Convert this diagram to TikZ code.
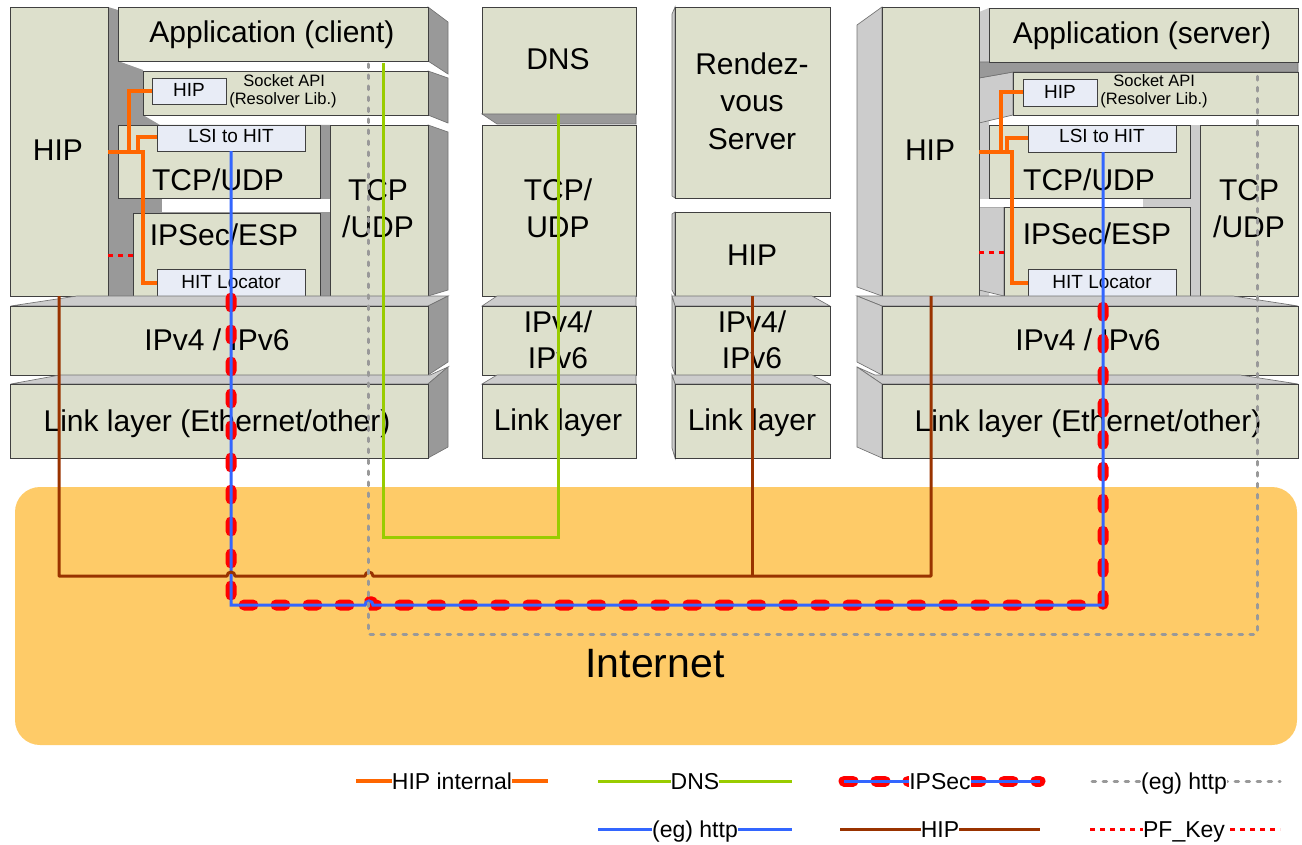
\documentclass[tikz,border=0pt]{standalone}
\usepackage{fontspec}
\setmainfont{Liberation Sans}
\definecolor{face}{RGB}{221,224,204}
\definecolor{sidegray}{RGB}{153,153,153}
\definecolor{topgray}{RGB}{204,204,204}
\definecolor{innerblue}{RGB}{232,236,246}
\definecolor{internet}{RGB}{254,203,104}
\definecolor{horange}{RGB}{255,102,0}
\definecolor{dgreen}{RGB}{153,204,0}
\definecolor{hblue}{RGB}{51,102,255}
\definecolor{hbrown}{RGB}{153,51,0}
\definecolor{hgray}{RGB}{153,153,153}
\definecolor{hred}{RGB}{255,0,0}
\tikzset{
  front/.style={fill=face, draw=black!75, line width=0.5pt},
  sideface/.style={fill=sidegray, draw=black!55, line width=0.4pt},
  topface/.style={fill=topgray, draw=black!55, line width=0.4pt},
  innerbox/.style={fill=innerblue, draw=black!75, line width=0.5pt},
  bigtxt/.style={font=\fontsize{18}{22}\selectfont, anchor=base, inner sep=0pt},
  smalltxt/.style={font=\fontsize{11.4}{13}\selectfont, anchor=base, inner sep=0pt},
  tinytxt/.style={font=\fontsize{9.9}{12}\selectfont, anchor=base west, inner sep=0pt},
  legtxt/.style={font=\fontsize{13.8}{16}\selectfont, anchor=base, inner xsep=0pt, inner ysep=1pt, fill=white},
  orangel/.style={draw=horange, line width=2.1pt},
  greenl/.style={draw=dgreen, line width=1.8pt},
  bluel/.style={draw=hblue, line width=1.8pt},
  brownl/.style={draw=hbrown, line width=1.8pt, line join=round},
  grayl/.style={draw=hgray, line width=1.8pt, line cap=round, dash pattern=on 2.2pt off 4.4pt},
  ipsecl/.style={draw=hred, line width=6.6pt, line cap=round, dash pattern=on 5.4pt off 13.8pt},
  pfkeyl/.style={draw=hred, line width=1.8pt, dash pattern=on 3pt off 3pt},
}
\begin{document}
\begin{tikzpicture}[x=0.6pt,y=-0.6pt]
\useasboundingbox (0,0) rectangle (1302,845);

% Internet
\fill[internet, rounded corners=15pt] (15,487) rectangle (1297,745);
\node[font=\fontsize{24.6}{28}\selectfont, anchor=base, inner sep=0pt] (inet) at (655,677) {Internet};

% ================= client stack =================
\fill[sidegray] (108,7) -- (118,10) -- (118,61) -- (143,70) -- (143,115) -- (160,125) -- (330,125) -- (330,296) -- (108,296) -- cycle;
\fill[white] (162,199) rectangle (330,212);
\draw[sideface] (428,7) -- (448,22) -- (448,74) -- (428,61) -- cycle;
\draw[sideface] (428,71) -- (448,78) -- (448,123) -- (428,115) -- cycle;
\draw[sideface] (428,125) -- (448,132) -- (448,290) -- (428,296) -- cycle;
\draw[front] (10.7,7) rectangle (108,296);
\draw[front] (118,7) rectangle (428,61);
\draw[front] (143,71) rectangle (428,115);
\draw[front] (118,125) rectangle (320,198);
\draw[front] (133,213) rectangle (320,296);
\draw[front] (330,125) rectangle (428,296);
\draw[innerbox] (152,78) rectangle (226,104);
\draw[innerbox] (157,125) rectangle (305,151);
\draw[innerbox] (157,269) rectangle (305,296);
\node[bigtxt] (hipC) at (58,160) {HIP};
\node[bigtxt] (appC) at (272,43) {Application (client)};
\node[smalltxt] (hipiC) at (189,97) {HIP};
\node[tinytxt] (sockC) at (243,87) {Socket API};
\node[tinytxt] (resC) at (229,105) {(Resolver Lib.)};
\node[smalltxt] (lsiC) at (231,143) {LSI to HIT};
\node[bigtxt] (tcpC) at (218,190) {TCP/UDP};
\node[bigtxt] (ipsecC) at (224,245) {IPSec/ESP};
\node[smalltxt] (locC) at (231,288) {HIT Locator};
\node[bigtxt] (tcpcolC1) at (378,200) {TCP};
\node[bigtxt] (tcpcolC2) at (378,237) {/UDP};
% IPv4
\draw[topface] (10.7,306) -- (77,296) -- (448,296) -- (428,306) -- cycle;
\draw[sideface] (428,306) -- (448,296) -- (448,362) -- (428,375) -- cycle;
\draw[front] (10.7,306) rectangle (428,375);
\node[bigtxt] (ipC) at (217,350) {IPv4 / IPv6};
% Link
\draw[topface] (10.7,384) -- (60,375) -- (430,375) -- (448,367) -- (428,384) -- cycle;
\draw[sideface] (428,384) -- (448,367) -- (448,447) -- (428,458) -- cycle;
\draw[front] (10.7,384) rectangle (428,458);
\node[bigtxt] (linkC) at (217,431) {Link layer (Ethernet/other)};

% ================= DNS column =================
\draw[front] (482,7) rectangle (636,114);
\draw[sideface] (482,114) -- (636,114) -- (636,124) -- (497,124) -- cycle;
\draw[front] (482,125) rectangle (636,296);
\draw[topface] (482,306) -- (497,296) -- (636,296) -- (636,306) -- cycle;
\draw[front] (482,306) rectangle (636,375);
\draw[topface] (482,384) -- (497,375) -- (636,375) -- (636,384) -- cycle;
\draw[front] (482,384) rectangle (636,458);
\node[bigtxt] (dnsD) at (558,70) {DNS};
\node[bigtxt] (tcpD1) at (558,200) {TCP/};
\node[bigtxt] (tcpD2) at (558,237) {UDP};
\node[bigtxt] (ipD1) at (558,332) {IPv4/};
\node[bigtxt] (ipD2) at (558,368) {IPv6};
\node[bigtxt] (linkD) at (558,430) {Link layer};

% ================= Rendezvous column =================
\draw[topface] (672,14) -- (675,7) -- (675,198) -- (672,196) -- cycle;
\draw[front] (675,7) rectangle (830,198);
\draw[topface] (672,214) -- (675,212) -- (675,296) -- (672,290) -- cycle;
\draw[front] (675,212) rectangle (830,296);
\draw[topface] (672,296) -- (812,296) -- (830,306) -- (675,306) -- cycle;
\draw[topface] (672,296) -- (675,306) -- (675,375) -- (672,366) -- cycle;
\draw[front] (675,306) rectangle (830,375);
\draw[topface] (672,375) -- (812,375) -- (830,384) -- (675,384) -- cycle;
\draw[topface] (672,375) -- (675,384) -- (675,458) -- (672,448) -- cycle;
\draw[front] (675,384) rectangle (830,458);
\node[bigtxt] (rvs1) at (752,75) {Rendez-};
\node[bigtxt] (rvs2) at (752,112) {vous};
\node[bigtxt] (rvs3) at (752,149) {Server};
\node[bigtxt] (hipR) at (752,265) {HIP};
\node[bigtxt] (ipR1) at (752,332) {IPv4/};
\node[bigtxt] (ipR2) at (752,368) {IPv6};
\node[bigtxt] (linkR) at (752,430) {Link layer};

% ================= server stack =================
\fill[topgray] (979,12) -- (989,8) -- (989,296) -- (979,296) -- cycle;
\fill[topgray] (1190,125) rectangle (1200,296);
\fill[topgray] (1143,199) rectangle (1190,207);
\draw[topface] (979,207) -- (1004,207) -- (1004,296) -- (979,290) -- cycle;
\draw[topface] (979,78) -- (1013,72) -- (1013,115) -- (979,123) -- cycle;
\draw[sideface] (979,62) -- (1298,62) -- (1298,72) -- (1013,72) -- (979,78) -- cycle;
\fill[white] (979,199) rectangle (1143,207);
\draw[topface] (857,25) -- (882,7) -- (882,296) -- (857,287) -- cycle;
\draw[front] (882,7) rectangle (979,296);
\draw[front] (989,8) rectangle (1298,62);
\draw[front] (1013,72) rectangle (1298,115);
\draw[front] (989,125) rectangle (1190,198);
\draw[front] (1004,207) rectangle (1190,296);
\draw[front] (1200,125) rectangle (1298,296);
\draw[innerbox] (1023,79) rectangle (1097,106);
\draw[innerbox] (1028,125) rectangle (1176,152);
\draw[innerbox] (1028,269) rectangle (1176,296);
\node[bigtxt] (hipS) at (930,160) {HIP};
\node[bigtxt] (appS) at (1142,44) {Application (server)};
\node[smalltxt] (hipiS) at (1060,98) {HIP};
\node[tinytxt] (sockS) at (1113,87) {Socket API};
\node[tinytxt] (resS) at (1100,105) {(Resolver Lib.)};
\node[smalltxt] (lsiS) at (1102,143) {LSI to HIT};
\node[bigtxt] (tcpS) at (1089,190) {TCP/UDP};
\node[bigtxt] (ipsecS) at (1097,244) {IPSec/ESP};
\node[smalltxt] (locS) at (1102,288) {HIT Locator};
\node[bigtxt] (tcpcolS1) at (1249,200) {TCP};
\node[bigtxt] (tcpcolS2) at (1249,237) {/UDP};
\draw[topface] (857,296) -- (1233,296) -- (1298,306) -- (882,306) -- cycle;
\draw[topface] (857,296) -- (882,306) -- (882,375) -- (857,362) -- cycle;
\draw[front] (882,306) rectangle (1298,375);
\node[bigtxt] (ipS) at (1088,350) {IPv4 / IPv6};
\draw[topface] (857,367) -- (875,375) -- (1240,375) -- (1298,384) -- (882,384) -- cycle;
\draw[topface] (857,367) -- (882,384) -- (882,458) -- (857,447) -- cycle;
\draw[front] (882,384) rectangle (1298,458);
\node[bigtxt] (linkS) at (1088,431) {Link layer (Ethernet/other)};

% ================= connectors =================
\coordinate (hipCb) at (59,296);
\coordinate (hipSb) at (931,296);
\coordinate (hipRb) at (752,296);
\coordinate (lsiCb) at (231,151);
\coordinate (lsiSb) at (1103,152);
\coordinate (locCb) at (231,298);
\coordinate (locSb) at (1103,298);
\coordinate (appCb) at (368,64);
\coordinate (sockSt) at (1257,74);
\coordinate (appCb2) at (383,63);
\coordinate (dnsDb) at (558,114);

% IPSec
\draw[ipsecl] (locCb) -- (231,605) -- (365,605) arc[start angle=180,end angle=0,radius=2.4pt] -- (1103,605) -- (locSb);
% (eg) http blue
\draw[bluel] (lsiCb) -- (231,605) -- (365,605) arc[start angle=180,end angle=0,radius=2.4pt] -- (1103,605) -- (lsiSb);
% DNS
\draw[greenl] (appCb2) -- (383,537) -- (558,537) -- (dnsDb);
% HIP
\draw[brownl] (hipCb) -- (59,576) -- (227,576) arc[start angle=180,end angle=0,radius=2.4pt] -- (365,576) arc[start angle=180,end angle=0,radius=2.4pt] -- (931,576) -- (hipSb);
\draw[brownl] (hipRb) -- (752,576);
% (eg) http gray
\draw[grayl] (appCb) -- (368,634) -- (1257,634) -- (sockSt);
% HIP internal
\draw[orangel] (108,152) -- (143,152) -- (143,283) -- (157,283);
\draw[orangel] (129,152) |- (152,91);
\draw[orangel] (138,152) |- (157,137);
\draw[orangel] (979,152) -- (1012,152) -- (1012,283) -- (1028,283);
\draw[orangel] (1001,152) |- (1023,92);
\draw[orangel] (1007,152) |- (1028,138);
% PF_Key
\draw[pfkeyl] (108,255) -- (133,255);
\draw[pfkeyl] (979,252) -- (1004,252);

% ================= legend =================
\draw[orangel] (356,781) -- (548,781);
\node[legtxt] (lg1) at (452,789) {HIP internal};
\draw[greenl] (598,781) -- (792,781);
\node[legtxt] (lg2) at (695,789) {DNS};
\draw[ipsecl] (844,781) -- (1040,781);
\draw[bluel] (844,781) -- (1040,781);
\node[legtxt] (lg3) at (940,789) {IPSec};
\draw[grayl] (1092,781) -- (1280,781);
\node[legtxt] (lg4) at (1184,789) {(eg) http};
\draw[bluel] (598,829) -- (792,829);
\node[legtxt] (lg5) at (695,837) {(eg) http};
\draw[brownl] (840,829) -- (1040,829);
\node[legtxt] (lg6) at (940,837) {HIP};
\draw[pfkeyl] (1090,829) -- (1280,829);
\node[legtxt] (lg7) at (1184,837) {PF\_Key};
\end{tikzpicture}
\end{document}
